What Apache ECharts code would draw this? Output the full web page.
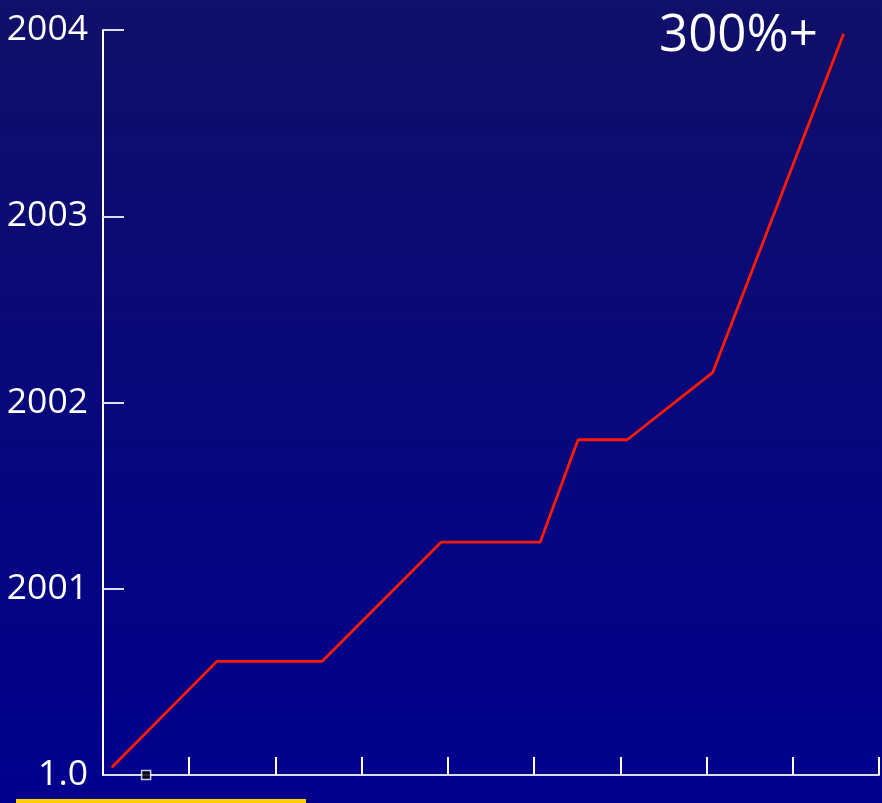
<!DOCTYPE html>
<html><head><meta charset="utf-8">
<script src="https://cdn.jsdelivr.net/npm/echarts@6/dist/echarts.min.js"></script>
<style>html,body{margin:0;padding:0;background:#06067a}#c{width:882px;height:803px}</style>
</head><body><div id="c"></div>
<script>
const yTickLabels = ["1.0", "2001", "2002", "2003", "2004"];
const lineX = [0.10, 1.32, 2.54, 3.92, 5.07, 5.51, 6.08, 7.07, 8.59];
const lineY = [0.04, 0.61, 0.61, 1.25, 1.25, 1.80, 1.80, 2.16, 3.98];
const markerPoint = [[0.5, 0]];
const annotation = "300%+";

const chart = echarts.init(document.getElementById('c'), null, {renderer: 'canvas'});
const font = '"Open Sans", "Noto Sans", sans-serif';
chart.setOption({
  animation: false,
  backgroundColor: new echarts.graphic.LinearGradient(0, 0, 0, 1, [
    {offset: 0, color: '#100f69'},
    {offset: 1, color: '#00008d'}
  ]),
  grid: {left: 103, right: 3, top: 30, bottom: 28, containLabel: false},
  xAxis: {
    type: 'value', min: 0, max: 9, interval: 1,
    axisLine: {show: true, lineStyle: {color: '#dcdcf0', width: 2}},
    axisTick: {show: true, inside: true, length: 18, lineStyle: {color: '#ffffff', width: 2}},
    axisLabel: {show: false},
    splitLine: {show: false}
  },
  yAxis: {
    type: 'value', min: 0, max: 4, interval: 1,
    axisLine: {show: true, lineStyle: {color: '#ffffff', width: 2}},
    axisTick: {show: true, inside: true, length: 21, lineStyle: {color: '#dcdcf0', width: 2}},
    axisLabel: {
      color: '#ffffff', fontSize: 35.5, fontFamily: font, margin: 15,
      formatter: v => yTickLabels[Math.round(v)]
    },
    splitLine: {show: false}
  },
  series: [
    {
      type: 'line',
      data: lineX.map((x, i) => [x, lineY[i]]),
      symbol: 'none',
      lineStyle: {color: '#ff1a00', width: 2.8},
      z: 3
    },
    {
      type: 'scatter',
      data: markerPoint,
      symbol: 'rect', symbolSize: 9,
      itemStyle: {color: '#000000', borderColor: '#ffffff', borderWidth: 1.5},
      z: 5
    }
  ],
  graphic: [
    {type: 'text', left: 659, top: 11, style: {text: annotation, fill: '#ffffff', font: '51px "Open Sans", "Noto Sans", sans-serif'}},
    {type: 'rect', left: 16, top: 799, shape: {width: 290, height: 4}, style: {fill: '#ffcc00'}}
  ]
});
</script></body></html>
